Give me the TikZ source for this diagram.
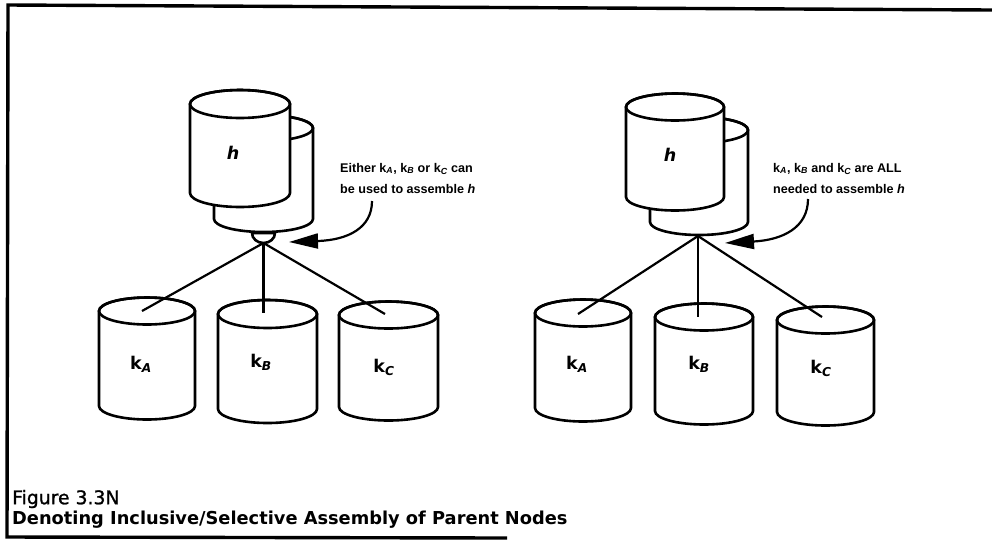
\documentclass[tikz,border=0pt]{standalone}
\usepackage{fontspec}
\setmainfont{DejaVu Sans}
\newfontfamily\notefont{Liberation Sans}
\newfontfamily\figfont[FakeBold=1.2]{DejaVu Sans}
\usetikzlibrary{arrows.meta}

% drum: name, centre x, top-ellipse y, bottom-ellipse y, x radius, y radius
\newcommand\drum[6]{%
  \filldraw[drumline,fill=white]
    (#2-#5,#3) -- (#2-#5,#4)
    arc[start angle=180,end angle=360,x radius=#5pt,y radius=#6pt]
    -- (#2+#5,#3)
    arc[start angle=0,end angle=180,x radius=#5pt,y radius=#6pt] -- cycle;
  \draw[drumline] (#2,#3) ellipse[x radius=#5pt,y radius=#6pt];
  \coordinate (#1) at (#2,#3);
}

\begin{document}
\begin{tikzpicture}[x=1pt,y=-1pt,
  drumline/.style={line width=2.6pt},
  link/.style={line width=2.2pt},
  frameline/.style={line width=3.4pt},
  pointer/.style={line width=2.2pt,-{Triangle[length=29pt,width=15pt]}},
  note/.style={font=\notefont\fontsize{12.6}{21}\selectfont\bfseries,align=left,anchor=west,inner sep=0pt},
  drumlabel/.style={font=\fontsize{17.5}{20}\selectfont\bfseries,inner sep=0pt},
  caption/.style={anchor=west,inner sep=0pt}]
\useasboundingbox (0,0) rectangle (992,550);

% frame
\coordinate (fbl) at (7,537);
\coordinate (ftl) at (8,5);
\coordinate (ftr) at (992,10);
\coordinate (fbr) at (507,538);
\draw[frameline] (fbr) -- (fbl) -- (ftl) -- (ftr);

% ---- inclusive (left) ----
\drum{lhb}{263.5}{128}{219}{49.5}{13}
\drum{lhf}{240}{104}{193}{50}{14}
\filldraw[drumline,fill=white] (252,233) arc[start angle=180,end angle=360,x radius=11.5pt,y radius=10pt] -- cycle;
\coordinate (lj) at (263.5,243);
\drum{lka}{147}{311}{406}{48}{13.5}
\drum{lkb}{267.5}{314}{409}{49.5}{14}
\drum{lkc}{388.5}{315}{407}{49.5}{13.5}
\coordinate (lea) at (142,311);
\coordinate (leb) at (263.5,313);
\coordinate (lec) at (385,314);
\draw[link] (lj) -- (lea);
\draw[link] (lj) -- (leb);
\draw[link] (lj) -- (lec);

\node[drumlabel] (lh) at (233,153) {\itshape h};
\node[drumlabel] (lla) at (141,364) {k\textsubscript{\itshape A}};
\node[drumlabel] (llb) at (261,362) {k\textsubscript{\itshape B}};
\node[drumlabel] (llc) at (384,367) {k\textsubscript{\itshape C}};

\node[note] (lnote) at (340,178) {Either k\textsubscript{\itshape A}, k\textsubscript{\itshape B} or k\textsubscript{\itshape C} can\\be used to assemble \itshape h};
\coordinate (lstart) at (372,201);
\coordinate (ltip) at (289,242);
\draw[pointer] (lstart) .. controls (372,228) and (348,240) .. (ltip);

% ---- selective (right) ----
\drum{rhb}{699}{130}{222}{49}{13}
\drum{rhf}{675}{107}{197}{49}{13.5}
\coordinate (rj) at (698,236);
\drum{rka}{583}{313}{408}{48}{13.5}
\drum{rkb}{704}{317}{411}{49}{13.5}
\drum{rkc}{825.5}{320}{412}{48.5}{13.5}
\coordinate (rea) at (578,314);
\coordinate (reb) at (698,317);
\coordinate (rec) at (822,317);
\draw[link] (rj) -- (rea);
\draw[link] (rj) -- (reb);
\draw[link] (rj) -- (rec);

\node[drumlabel] (rh) at (670,155) {\itshape h};
\node[drumlabel] (rla) at (577,364) {k\textsubscript{\itshape A}};
\node[drumlabel] (rlb) at (699,364) {k\textsubscript{\itshape B}};
\node[drumlabel] (rlc) at (821,368) {k\textsubscript{\itshape C}};

\node[note] (rnote) at (773,178) {k\textsubscript{\itshape A}, k\textsubscript{\itshape B} and k\textsubscript{\itshape C} are ALL\\needed to assemble \itshape h};
\coordinate (rstart) at (808,199);
\coordinate (rtip) at (725,243);
\draw[pointer] (rstart) .. controls (808,228) and (782,240) .. (rtip);

% caption
\node[caption,font=\figfont\fontsize{18.8}{20}\selectfont] (cap1) at (12,499) {Figure 3.3N};
\node[caption,font=\fontsize{17.8}{20}\selectfont\bfseries] (cap2) at (12,520) {Denoting Inclusive/Selective Assembly of Parent Nodes};
\end{tikzpicture}
\end{document}
